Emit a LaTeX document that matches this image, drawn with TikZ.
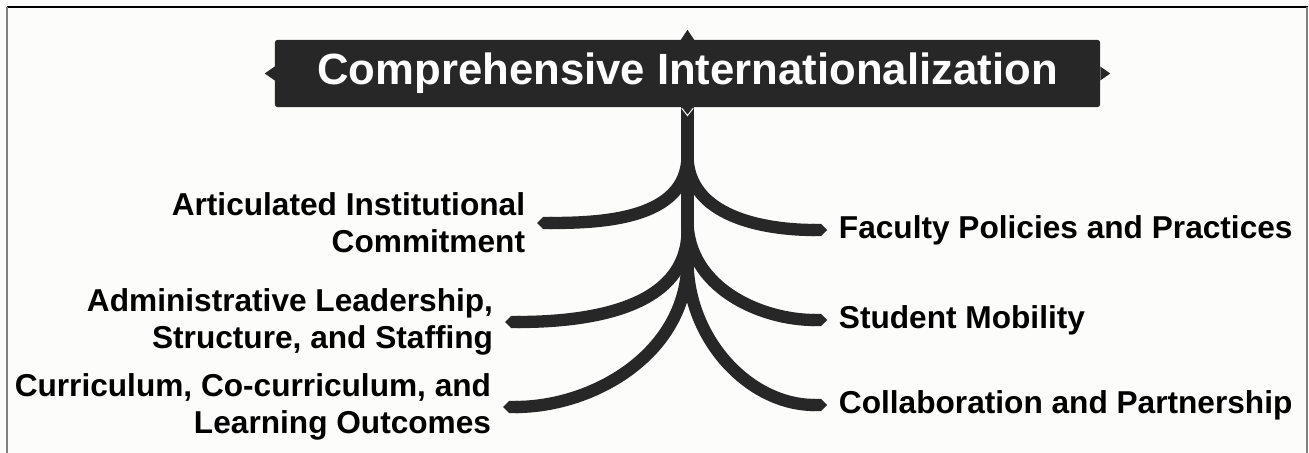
\documentclass[tikz,border=0pt]{standalone}
\usepackage{fontspec}
\setmainfont{Liberation Sans}
\usetikzlibrary{arrows.meta}
\definecolor{ink}{HTML}{272727}
\definecolor{paper}{HTML}{FCFCFB}
\begin{document}
\begin{tikzpicture}[x=0.03cm, y=-0.03cm,
		title/.style={fill=ink, text=white, rounded corners=2pt, minimum width=24.75cm,
		minimum height=2.01cm, font=\fontsize{37.3}{40}\selectfont\bfseries},
		leaf/.style={font=\fontsize{27}{31.5}\selectfont\bfseries, inner xsep=10pt, inner ysep=0pt},
		branch/.style={draw=ink, line width=10.5pt, -{Triangle Cap}} ]
	\useasboundingbox (0,0) rectangle (1309,453);
	\fill[paper] (0,0) rectangle (1309,453);
	\draw[black, line width=1.5pt] (7,7) -- (1308,7);
	\draw[gray, line width=1.5pt] (7,7) -- (7,453) (1307,7) -- (1307,453);

	\node[title] (title) at (687.5,73.5) {Comprehensive Internationalization};
	\fill[ink] ([xshift=-0.2cm]title.north) -- ([yshift=0.3cm]title.north) -- ([xshift=0.2cm]title.north) -- cycle;
	\fill[ink] ([yshift=0.21cm]title.west) -- ([xshift=-0.3cm]title.west) -- ([yshift=-0.21cm]title.west) -- cycle;
	\fill[ink] ([yshift=0.21cm]title.east) -- ([xshift=0.3cm]title.east) -- ([yshift=-0.21cm]title.east) -- cycle;

	\node[leaf, anchor=east, align=right] (ai) at (537,223) {Articulated Institutional\\Commitment};
	\node[leaf, anchor=east, align=right] (al) at (505,322) {Administrative Leadership,\\Structure, and Staffing};
	\node[leaf, anchor=east, align=right] (cu) at (503,407) {Curriculum, Co-curriculum, and\\Learning Outcomes};
	\node[leaf, anchor=west] (fp) at (827,230) {Faculty Policies and Practices};
	\node[leaf, anchor=west] (sm) at (827,320) {Student Mobility};
	\node[leaf, anchor=west] (cp) at (827,405) {Collaboration and Partnership};

	% left and right branches
	\draw[branch] (title.south) -- ++(0,48) to[out=-90, in=0] (ai.east);
	\draw[branch] (title.south) -- ++(0,123) to[out=-90, in=0] (al.east);
	\draw[branch] (title.south) -- ++(0,153) to[out=-90, in=0] (cu.east);
	\draw[branch] (title.south) -- ++(0,48) to[out=-90, in=180] (fp.west);
	\draw[branch] (title.south) -- ++(0,113) to[out=-90, in=180] (sm.west);
	\draw[branch] (title.south) -- ++(0,153) to[out=-90, in=180] (cp.west);
	\draw[white, line width=0.8pt] ([xshift=-0.17cm,yshift=-0.03cm]title.south) -- ([yshift=-0.25cm]title.south)
		-- ([xshift=0.17cm,yshift=-0.03cm]title.south);
\end{tikzpicture}
\end{document}
